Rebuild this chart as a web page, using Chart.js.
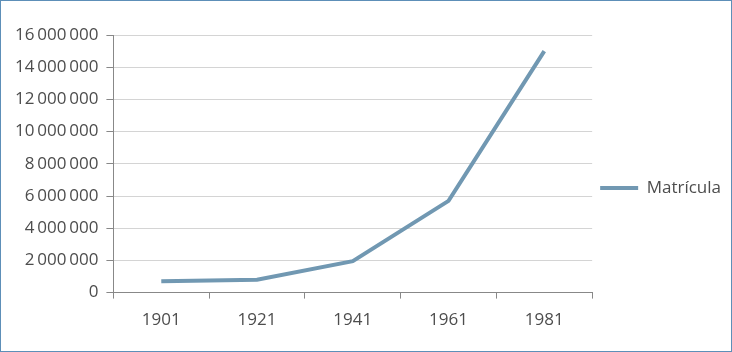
<!DOCTYPE html>
<html>
<head>
<meta charset="utf-8">
<script src="https://cdn.jsdelivr.net/npm/chart.js@4.4.0/dist/chart.umd.min.js"></script>
<style>
  html, body { margin: 0; padding: 0; background: #fff; }
  #wrap { width: 732px; height: 352px; box-sizing: border-box; border: 1px solid #5d8fb8; position: relative; }
  canvas { display: block; }
</style>
</head>
<body>
<div id="wrap"><canvas id="chart" width="730" height="350"></canvas></div>
<script>
// data
var years = ['1901', '1921', '1941', '1961', '1981'];
var matricula = [700000, 800000, 1950000, 5700000, 15000000];
var seriesName = 'Matrícula';
var yTicks = [0, 2000000, 4000000, 6000000, 8000000, 10000000, 12000000, 14000000, 16000000];

var lineColor = '#7198b2';
var textColor = '#4d4d4d';
var fontFamily = "'Open Sans', sans-serif";

function fmt(v) {
    return String(v).replace(/\B(?=(\d{3})+(?!\d))/g, '\u2009');
}

var ctx = document.getElementById('chart').getContext('2d');
var myChart = new Chart(ctx, {
    type: 'line',
    data: {
        labels: years,
        datasets: [{
            label: seriesName,
            data: matricula,
            borderColor: lineColor,
            backgroundColor: lineColor,
            borderWidth: 4,
            pointRadius: 0,
            tension: 0,
            fill: false
        }]
    },
    options: {
        responsive: false,
        animation: false,
        layout: { padding: { top: 34, right: 0, bottom: 10, left: 6 } },
        plugins: {
            tooltip: { enabled: false },
            legend: {
                position: 'right',
                labels: {
                    color: textColor,
                    font: { family: fontFamily, size: 17 },
                    boxWidth: 38,
                    boxHeight: 4,
                    padding: 8,
                    generateLabels: function(chart) {
                        return chart.data.datasets.map(function(ds, i) {
                            return {
                                text: ds.label,
                                fillStyle: ds.borderColor,
                                strokeStyle: ds.borderColor,
                                lineWidth: 0,
                                fontColor: textColor,
                                datasetIndex: i
                            };
                        });
                    }
                }
            }
        },
        scales: {
            x: {
                offset: true,
                grid: {
                    offset: true,
                    drawOnChartArea: false,
                    drawTicks: true,
                    tickLength: 6,
                    tickColor: '#888888'
                },
                border: { color: '#888888', width: 1 },
                ticks: {
                    color: textColor,
                    font: { family: fontFamily, size: 17 },
                    padding: 11,
                    maxRotation: 0
                }
            },
            y: {
                min: 0,
                max: 16000000,
                afterBuildTicks: function(axis) {
                    axis.ticks = yTicks.map(function(v) { return { value: v }; });
                },
                grid: {
                    color: '#d4d4d4',
                    tickColor: '#888888',
                    tickLength: 7,
                    drawTicks: true
                },
                border: { color: '#888888', width: 1 },
                ticks: {
                    color: textColor,
                    font: { family: fontFamily, size: 17 },
                    padding: 8,
                    callback: function(v) { return fmt(v); }
                }
            }
        }
    }
});
</script>
</body>
</html>
